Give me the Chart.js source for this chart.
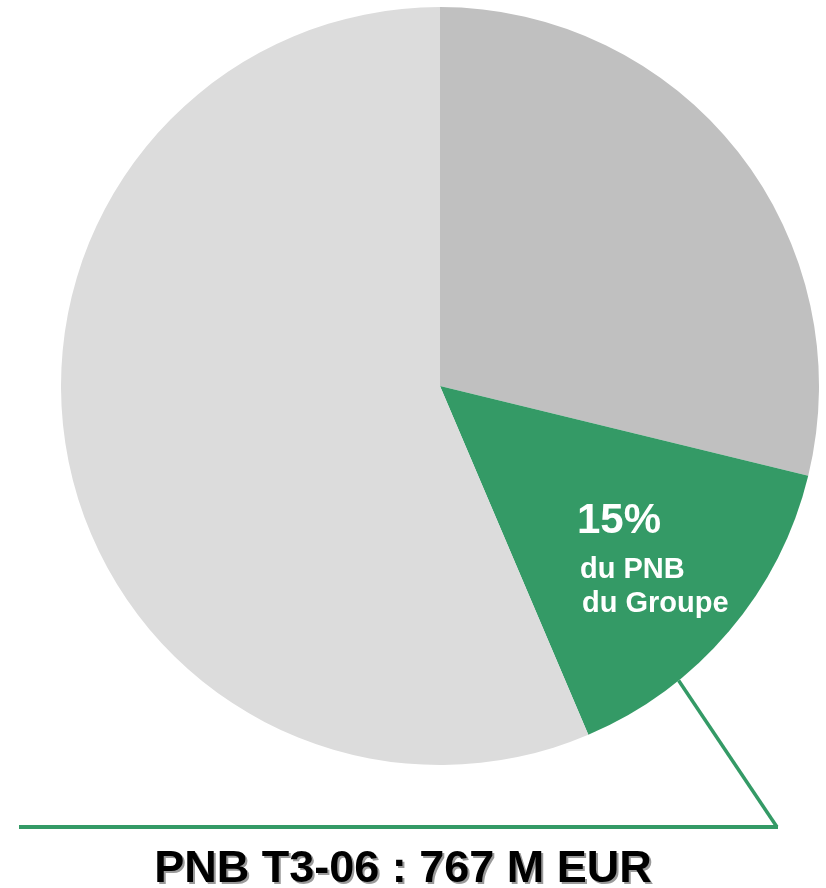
<!DOCTYPE html>
<html>
<head>
<meta charset="utf-8">
<script src="https://cdn.jsdelivr.net/npm/chart.js@4"></script>
<style>
  html, body { margin: 0; padding: 0; background: #ffffff; }
  #wrap { width: 826px; height: 888px; position: relative; }
</style>
</head>
<body>
<div id="wrap"><canvas id="c" width="826" height="888"></canvas></div>
<script>
// Data
const categories = ['Autres métiers A', 'Métier (15% du PNB du Groupe)', 'Autres métiers B'];
const shares = [28.8, 14.8, 56.4];
const sliceColors = ['#c0c0c0', '#349a66', '#dcdcdc'];
const labelLines = ['15%', 'du PNB', 'du Groupe'];
const footerText = 'PNB T3-06 : 767 M EUR';

const FONT = '"Liberation Sans", Arial, Helvetica, sans-serif';

const overlay = {
  id: 'overlay',
  afterDatasetsDraw(chart) {
    const ctx = chart.ctx;
    const arc = chart.getDatasetMeta(0).data[1];
    const cx = arc.x, cy = arc.y, r = arc.outerRadius;
    // leader line from the green slice edge
    const a = arc.startAngle + (arc.endAngle - arc.startAngle) * 0.7;
    const px = cx + Math.cos(a) * r, py = cy + Math.sin(a) * r;
    const lineY = 827, lineX0 = 19, lineX1 = 777;
    ctx.save();
    ctx.strokeStyle = '#349a66';
    ctx.lineCap = 'butt';
    ctx.lineWidth = 3.5;
    ctx.beginPath();
    ctx.moveTo(px, py);
    ctx.lineTo(lineX1, lineY);
    ctx.stroke();
    ctx.lineWidth = 4;
    ctx.beginPath();
    ctx.moveTo(lineX0, lineY);
    ctx.lineTo(lineX1 + 1, lineY);
    ctx.stroke();

    // slice label
    ctx.fillStyle = '#ffffff';
    ctx.textAlign = 'left';
    ctx.textBaseline = 'alphabetic';
    ctx.font = 'bold 42px ' + FONT;
    ctx.fillText(labelLines[0], 577, 533);
    ctx.font = 'bold 29px ' + FONT;
    ctx.fillText(labelLines[1], 580, 578);
    ctx.fillText(labelLines[2], 582, 612);

    // footer with shadow
    ctx.font = 'bold 45px ' + FONT;
    ctx.textAlign = 'center';
    ctx.fillStyle = '#9a9a9a';
    ctx.fillText(footerText, 405, 884);
    ctx.fillStyle = '#000000';
    ctx.fillText(footerText, 403, 882);
    ctx.restore();
  }
};

new Chart(document.getElementById('c'), {
  type: 'pie',
  data: {
    labels: categories,
    datasets: [{
      data: shares,
      backgroundColor: sliceColors,
      borderWidth: 0,
      offset: 0,
      hoverOffset: 0
    }]
  },
  options: {
    responsive: false,
    animation: false,
    events: [],
    layout: { padding: { left: 61, right: 7, top: 7, bottom: 123 } },
    plugins: {
      legend: { display: false },
      tooltip: { enabled: false },
      title: { display: false }
    }
  },
  plugins: [overlay]
});
</script>
</body>
</html>
